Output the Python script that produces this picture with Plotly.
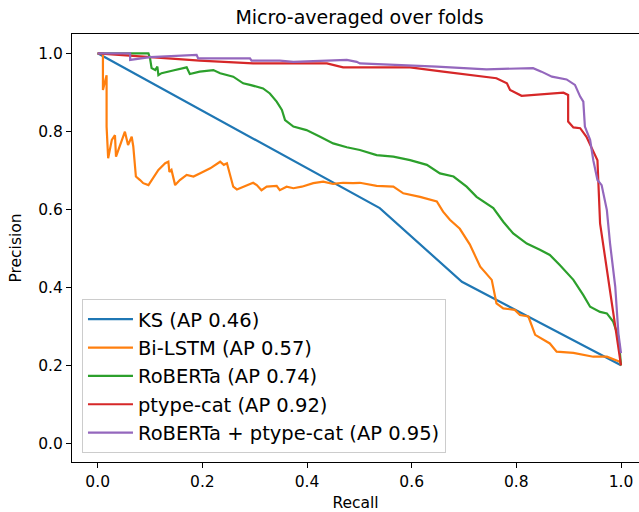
import plotly.graph_objects as go

# ---- data ----
series_names = ["KS (AP 0.46)", "Bi-LSTM (AP 0.57)", "RoBERTa (AP 0.74)",
                "ptype-cat (AP 0.92)", "RoBERTa + ptype-cat (AP 0.95)"]
series_colors = ["#1f77b4", "#ff7f0e", "#2ca02c", "#d62728", "#9467bd"]

ks_recall = [0.0, 0.539, 0.696, 1.0]
ks_precision = [1.0, 0.603, 0.414, 0.20]

bilstm_recall = [0.0, 0.010, 0.010, 0.017, 0.017, 0.020, 0.027, 0.030, 0.033, 0.035,
                 0.043, 0.052, 0.058, 0.065, 0.068, 0.073, 0.081, 0.087, 0.097, 0.103,
                 0.116, 0.129, 0.135, 0.137, 0.141, 0.148, 0.157, 0.170, 0.183, 0.195,
                 0.215, 0.234, 0.241, 0.247, 0.253, 0.259, 0.266, 0.278, 0.297, 0.304,
                 0.313, 0.323, 0.342, 0.348, 0.361, 0.374, 0.390, 0.412, 0.431, 0.450,
                 0.469, 0.488, 0.501, 0.533, 0.565, 0.584, 0.616, 0.648, 0.660, 0.673,
                 0.692, 0.711, 0.731, 0.753, 0.762, 0.775, 0.797, 0.807, 0.823, 0.836,
                 0.848, 0.864, 0.877, 0.909, 0.947, 0.973, 0.998, 1.0]
bilstm_precision = [1.0, 1.0, 0.906, 0.944, 0.812, 0.731, 0.778, 0.786, 0.790, 0.735,
                    0.765, 0.799, 0.765, 0.786, 0.761, 0.684, 0.675, 0.667, 0.662, 0.675,
                    0.701, 0.718, 0.722, 0.696, 0.701, 0.662, 0.675, 0.688, 0.684, 0.692,
                    0.705, 0.722, 0.714, 0.718, 0.684, 0.658, 0.651, 0.658, 0.668, 0.662,
                    0.649, 0.658, 0.660, 0.649, 0.658, 0.654, 0.658, 0.667, 0.671, 0.665,
                    0.668, 0.667, 0.668, 0.660, 0.658, 0.641, 0.632, 0.620, 0.594, 0.573,
                    0.550, 0.510, 0.453, 0.419, 0.359, 0.346, 0.342, 0.329, 0.325, 0.278,
                    0.269, 0.256, 0.235, 0.232, 0.222, 0.222, 0.209, 0.20]

roberta_recall = [0.0, 0.097, 0.100, 0.103, 0.110, 0.114, 0.116, 0.122, 0.144, 0.170,
                  0.176, 0.195, 0.221, 0.234, 0.259, 0.278, 0.291, 0.316, 0.329, 0.342,
                  0.352, 0.358, 0.374, 0.399, 0.425, 0.450, 0.476, 0.501, 0.533, 0.565,
                  0.597, 0.629, 0.654, 0.680, 0.705, 0.724, 0.756, 0.775, 0.794, 0.820,
                  0.845, 0.864, 0.883, 0.909, 0.928, 0.941, 0.960, 0.973, 0.985, 0.995,
                  0.998, 1.0]
roberta_precision = [1.0, 1.0, 0.987, 0.962, 0.957, 0.966, 0.944, 0.949, 0.956, 0.964,
                     0.947, 0.953, 0.957, 0.949, 0.940, 0.923, 0.919, 0.910, 0.897, 0.876,
                     0.855, 0.829, 0.812, 0.803, 0.786, 0.769, 0.759, 0.752, 0.739, 0.735,
                     0.726, 0.714, 0.692, 0.684, 0.658, 0.632, 0.603, 0.568, 0.538, 0.512,
                     0.496, 0.483, 0.457, 0.419, 0.380, 0.350, 0.337, 0.333, 0.312, 0.273,
                     0.231, 0.20]

ptype_recall = [0.0, 0.195, 0.297, 0.438, 0.469, 0.501, 0.597, 0.660, 0.724, 0.762,
                0.782, 0.788, 0.810, 0.890, 0.899, 0.899, 0.909, 0.922, 0.934, 0.947,
                0.955, 0.960, 1.0]
ptype_precision = [1.0, 0.981, 0.974, 0.974, 0.964, 0.964, 0.964, 0.953, 0.943, 0.936,
                   0.923, 0.906, 0.891, 0.899, 0.893, 0.825, 0.810, 0.808, 0.786, 0.748,
                   0.726, 0.564, 0.20]

combo_recall = [0.0, 0.062, 0.062, 0.100, 0.189, 0.192, 0.291, 0.294, 0.348, 0.374,
                0.476, 0.495, 0.501, 0.597, 0.648, 0.743, 0.832, 0.848, 0.868, 0.896,
                0.912, 0.922, 0.928, 0.931, 0.941, 0.947, 0.955, 0.963, 0.973, 0.979,
                0.989, 0.995, 1.0]
combo_precision = [1.0, 1.0, 0.983, 0.990, 0.996, 0.987, 0.987, 0.981, 0.981, 0.978,
                   0.983, 0.978, 0.974, 0.970, 0.966, 0.959, 0.962, 0.953, 0.940, 0.933,
                   0.919, 0.889, 0.876, 0.812, 0.778, 0.726, 0.675, 0.662, 0.598, 0.513,
                   0.402, 0.282, 0.231]

tick_vals = [0.0, 0.2, 0.4, 0.6, 0.8, 1.0]
tick_text = ["0.0", "0.2", "0.4", "0.6", "0.8", "1.0"]

recalls = [ks_recall, bilstm_recall, roberta_recall, ptype_recall, combo_recall]
precisions = [ks_precision, bilstm_precision, roberta_precision, ptype_precision, combo_precision]

FONT = "DejaVu Sans"

fig = go.Figure()
for i, (name, col, rr, pp) in enumerate(zip(series_names, series_colors, recalls, precisions)):
    fig.add_trace(go.Scatter(x=rr, y=pp, mode="lines", name=name,
                             line=dict(color=col, width=2.2),
                             legendgroup=f"g{i}"))

axis_common = dict(
    showgrid=False, zeroline=False, showline=True, linecolor="black", linewidth=1,
    ticks="outside", ticklen=5, tickwidth=1, tickcolor="black",
    tickvals=tick_vals, ticktext=tick_text,
    tickfont=dict(family=FONT, size=15.5, color="black"),
)

fig.update_layout(
    width=639, height=512,
    margin=dict(l=72, r=0, t=34, b=50),
    paper_bgcolor="white", plot_bgcolor="white",
    font=dict(family=FONT, color="black"),
    title=dict(text="Micro-averaged over folds", x=0.507, xref="paper", xanchor="center",
               y=1 - 17 / 512, yref="container", yanchor="middle",
               font=dict(family=FONT, size=19, color="black")),
    xaxis=dict(range=[-0.0491, 1.0344], mirror=True,
               title=dict(text="Recall", font=dict(family=FONT, size=15.5), standoff=8),
               **axis_common),
    yaxis=dict(range=[-0.048, 1.0495], mirror=False,
               title=dict(text="Precision", font=dict(family=FONT, size=15.5), standoff=12),
               **axis_common),
    legend=dict(x=0.0176, y=0.021, xanchor="left", yanchor="bottom",
                bgcolor="rgba(255,255,255,0.8)", bordercolor="#cccccc", borderwidth=1,
                font=dict(family=FONT, size=19.5, color="black"),
                itemwidth=45,
                tracegroupgap=1.5, traceorder="normal"),
    showlegend=True,
)

fig.write_html("out.html")
